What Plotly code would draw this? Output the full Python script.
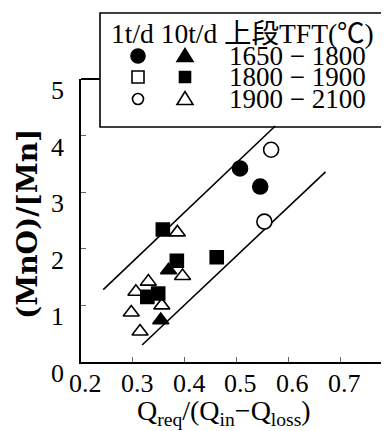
import plotly.graph_objects as go

# ---- data ----
circ_filled_x = [0.507, 0.546]
circ_filled_y = [3.42, 3.10]
circ_open_x = [0.567, 0.554]
circ_open_y = [3.75, 2.48]
sq_filled_x = [0.358, 0.385, 0.462, 0.349, 0.328]
sq_filled_y = [2.34, 1.79, 1.85, 1.21, 1.15]
tri_filled_x = [0.369, 0.354]
tri_filled_y = [1.62, 0.74]
tri_open_x = [0.386, 0.396, 0.330, 0.306, 0.356, 0.297, 0.314]
tri_open_y = [2.29, 1.52, 1.42, 1.24, 1.00, 0.875, 0.54]

upper_line_x = [0.243, 0.575]
upper_line_y = [1.28, 4.17]
lower_line_x = [0.318, 0.672]
lower_line_y = [0.30, 3.36]

x_ticks = [0.2, 0.3, 0.4, 0.5, 0.6, 0.7]
x_ticklabels = ["0.2", "0.3", "0.4", "0.5", "0.6", "0.7"]
y_ticks = [0, 1, 2, 3, 4, 5]
y_ticklabels = ["0", "1", "2", "3", "4", "5"]

legend_header = "1t/d 10t/d 上段TFT(℃)"
legend_ranges = ["1650 − 1800", "1800 − 1900", "1900 − 2100"]

# ---- layout geometry ----
# the page body has an 8px margin, so the figure is 8px smaller and
# window coordinates are converted to figure coordinates below
OFF = 8
W, H = 389 - OFF, 431 - OFF
L, R, T, B = 73, 0, 71, 69
PW, PH = W - L - R, H - T - B
FONT = "Liberation Serif, Noto Sans CJK JP, serif"
blk = "black"


def pxx(xw):
    return (xw - OFF - L) / PW


def pxy(yw):
    return (H - B - (yw - OFF)) / PH


fig = go.Figure()

# regression band lines
for lx, ly in [(upper_line_x, upper_line_y), (lower_line_x, lower_line_y)]:
    fig.add_trace(go.Scatter(x=lx, y=ly, mode="lines",
                             line=dict(color=blk, width=1.6),
                             showlegend=False, hoverinfo="skip"))


def add_pts(xs, ys, symbol, size, filled):
    fig.add_trace(go.Scatter(
        x=xs, y=ys, mode="markers", showlegend=False, cliponaxis=False,
        marker=dict(symbol=symbol, size=size,
                    color=blk if filled else "white",
                    line=dict(color=blk, width=1.6))))


add_pts(tri_open_x, tri_open_y, "triangle-up", 14, False)
add_pts(sq_filled_x, sq_filled_y, "square", 13, True)
add_pts(tri_filled_x, tri_filled_y, "triangle-up", 14, True)
add_pts(circ_filled_x, circ_filled_y, "circle", 15, True)
add_pts(circ_open_x, circ_open_y, "circle", 15, False)

# ---- frame top line + custom legend box ----
shapes = [
    dict(type="line", xref="paper", yref="paper", x0=0, x1=1, y0=1, y1=1,
         line=dict(color=blk, width=2), layer="below"),
    dict(type="rect", xref="paper", yref="paper",
         x0=pxx(100), x1=pxx(387), y0=pxy(127), y1=pxy(13),
         fillcolor="white", line=dict(color=blk, width=1.6), layer="below"),
]


def sym_shape(kind, xw, yw, half, filled):
    base = dict(xref="paper", yref="paper", xsizemode="pixel", ysizemode="pixel",
                xanchor=pxx(xw), yanchor=pxy(yw), layer="above",
                fillcolor=blk if filled else "white",
                line=dict(color=blk, width=1.6))
    if kind == "tri":
        w, h = half
        base.update(type="path",
                    path=f"M{-w},{-h * 0.85} L{w},{-h * 0.85} L0,{h * 1.15} Z")
    else:
        base.update(type="circle" if kind == "circle" else "rect",
                    x0=-half, x1=half, y0=-half, y1=half)
    return base


row_y = [56, 77, 99]
col1 = [("circle", 7, True), ("rect", 6, False), ("circle", 5.5, False)]
col2 = [("tri", (8, 6.5), True), ("rect", 5.5, True), ("tri", (8, 6.5), False)]
for (kind, half, filled), yy in zip(col1, row_y):
    shapes.append(sym_shape(kind, 138, yy, half, filled))
for (kind, half, filled), yy in zip(col2, row_y):
    shapes.append(sym_shape(kind, 185, yy, half, filled))

annotations = [
    dict(text=legend_header, xref="paper", yref="paper", x=pxx(109), y=pxy(34),
         xanchor="left", yanchor="middle", showarrow=False,
         font=dict(family=FONT, size=27.5, color=blk)),
]
for txt, yy in zip(legend_ranges, row_y):
    annotations.append(dict(text=txt, xref="paper", yref="paper", x=pxx(227), y=pxy(yy),
                            xanchor="left", yanchor="middle", showarrow=False,
                            font=dict(family=FONT, size=27, color=blk)))

# tick labels (offset like the reference)
for v, t in zip(y_ticks, y_ticklabels):
    annotations.append(dict(text=t, xref="paper", yref="y", x=0, y=v,
                            xanchor="right", yanchor="middle", xshift=-15, yshift=-11.5,
                            showarrow=False, font=dict(family=FONT, size=26, color=blk)))
for v, t in zip(x_ticks, x_ticklabels):
    annotations.append(dict(text=t, xref="x", yref="paper", x=v, y=0,
                            xanchor="center", yanchor="middle", xshift=4.5, yshift=-21,
                            showarrow=False, font=dict(family=FONT, size=26, color=blk)))

# axis titles
annotations.append(dict(text="Q<sub>req</sub>/(Q<sub>in</sub>−Q<sub>loss</sub>)",
                        xref="paper", yref="paper", x=pxx(224), y=pxy(412),
                        xanchor="center", yanchor="middle", showarrow=False,
                        font=dict(family=FONT, size=28, color=blk)))
annotations.append(dict(text="<b>(MnO)/[Mn]</b>", textangle=-90,
                        xref="paper", yref="paper", x=pxx(27), y=pxy(224),
                        xanchor="center", yanchor="middle", showarrow=False,
                        font=dict(family="DejaVu Serif, serif", size=28, color=blk)))

fig.update_layout(
    width=W, height=H,
    margin=dict(l=L, r=R, t=T, b=B, pad=0),
    paper_bgcolor="white", plot_bgcolor="white",
    showlegend=False,
    shapes=shapes, annotations=annotations,
    xaxis=dict(range=[0.2, 0.2 + PW / 518.0], tickvals=x_ticks,
               showticklabels=False,
               ticks="inside", ticklen=5, tickwidth=1, tickcolor="#666",
               showline=True, linecolor=blk, linewidth=2, mirror=False,
               showgrid=False, zeroline=False),
    yaxis=dict(range=[0, 5], tickvals=y_ticks, showticklabels=False,
               ticks="inside", ticklen=5, tickwidth=1, tickcolor="#666",
               showline=True, linecolor=blk, linewidth=2, mirror=False,
               showgrid=False, zeroline=False),
)

fig.write_html("out.html")
